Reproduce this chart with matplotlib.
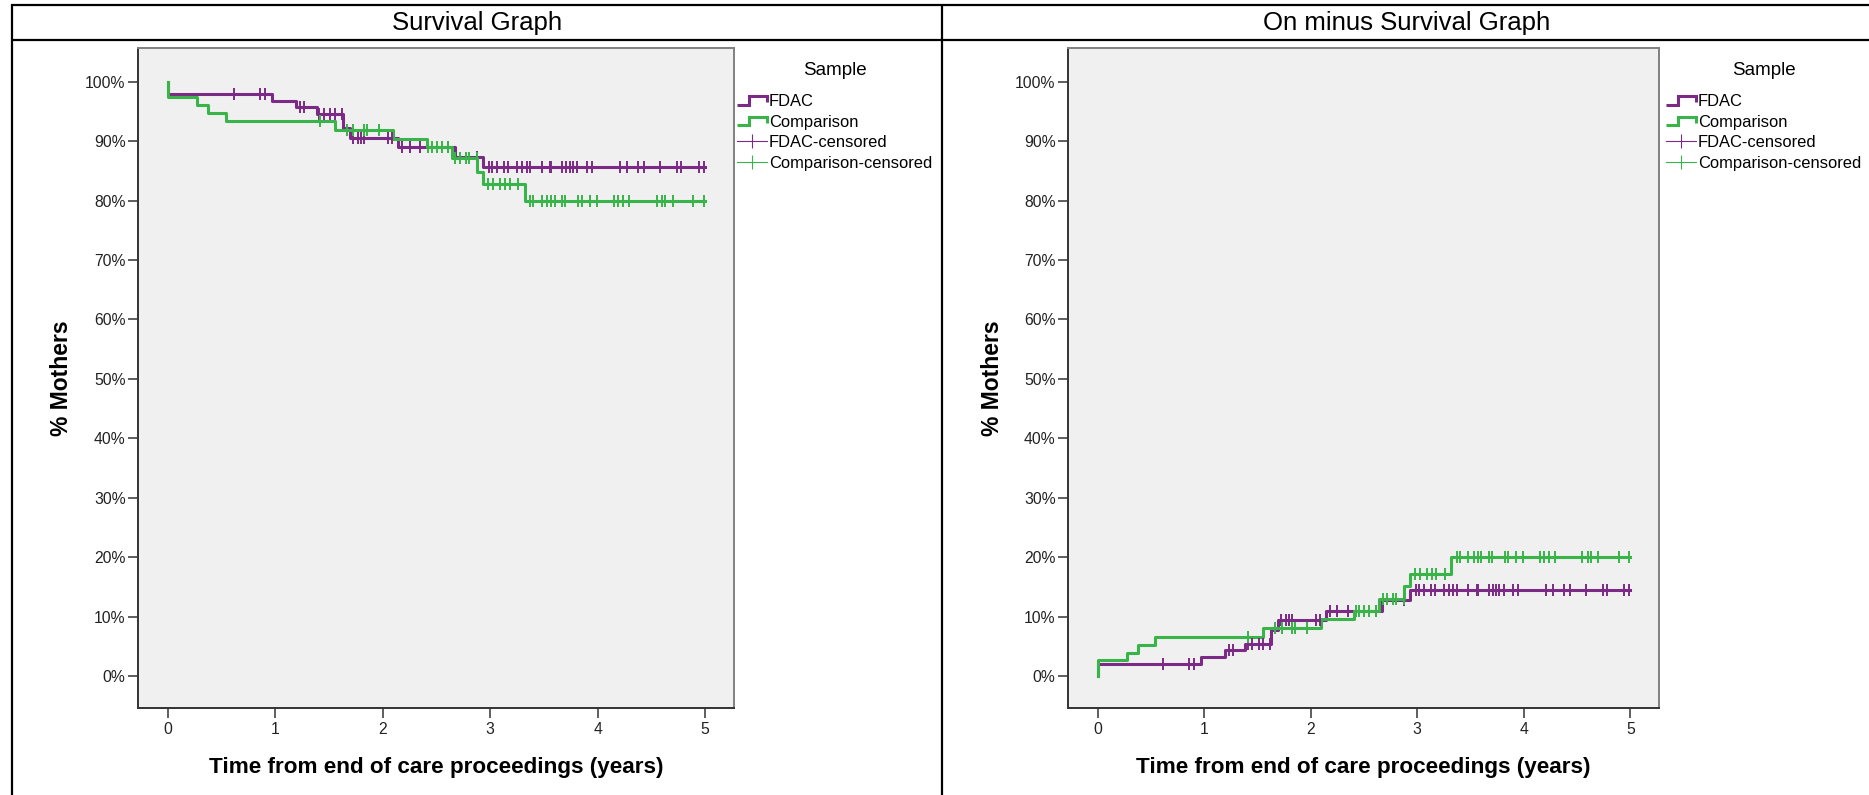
import numpy as np
import matplotlib
matplotlib.use("Agg")
import matplotlib.pyplot as plt
from matplotlib.lines import Line2D
from matplotlib.legend_handler import HandlerBase

plt.rcParams['font.family'] = ['Liberation Sans', 'DejaVu Sans']

# ---- Kaplan-Meier data (years, % still "off") ----
fdac_event_times = [0.0, 0.965, 1.19, 1.385, 1.63, 1.69, 2.14, 2.67, 2.93]
fdac_survival = [98.0, 96.8, 95.7, 94.6, 92.3, 90.6, 89.1, 87.3, 85.6]
fdac_end = 5.0
fdac_censored = [0.61, 0.86, 0.90, 1.23, 1.265, 1.41, 1.45, 1.51, 1.55, 1.62,
                 1.72, 1.77, 1.80, 1.82, 2.05, 2.085, 2.18, 2.25, 2.35, 2.61,
                 2.875, 2.985, 3.015, 3.06, 3.125, 3.17, 3.25, 3.295, 3.34, 3.37,
                 3.48, 3.56, 3.57, 3.67, 3.71, 3.74, 3.77, 3.81, 3.90, 3.95,
                 4.21, 4.27, 4.38, 4.43, 4.58, 4.74, 4.78, 4.94, 4.99]

comp_event_times = [0.0, 0.27, 0.375, 0.54, 1.55, 2.095, 2.41, 2.64, 2.88, 2.935, 3.32]
comp_survival = [97.4, 96.1, 94.8, 93.4, 91.9, 90.4, 89.0, 87.1, 84.8, 82.8, 80.0]
comp_end = 5.0
comp_censored = [1.415, 1.665, 1.725, 1.82, 1.85, 1.96, 2.425, 2.455, 2.50, 2.55,
                 2.61, 2.675, 2.72, 2.77, 2.80, 2.875, 2.98, 3.03, 3.09, 3.14,
                 3.18, 3.26, 3.37, 3.40, 3.48, 3.53, 3.57, 3.60, 3.67, 3.70,
                 3.82, 3.85, 3.93, 3.99, 4.15, 4.19, 4.24, 4.29, 4.55, 4.60,
                 4.63, 4.70, 4.89, 4.99]

group_names = ["FDAC", "Comparison"]
panel_titles = ["Survival Graph", "On minus Survival Graph"]
x_ticks = [0, 1, 2, 3, 4, 5]
y_ticks = [0, 10, 20, 30, 40, 50, 60, 70, 80, 90, 100]
x_label = "Time from end of care proceedings (years)"
y_label = "% Mothers"

PURPLE = "#7B2A85"
GREEN = "#38B449"

W, H = 1869, 795
fig = plt.figure(figsize=(W / 100, H / 100), dpi=100)


def px_rect(l, t, r, b):
    return [l / W, 1 - b / H, (r - l) / W, (b - t) / H]


def step_curve(times, levels, end):
    xs = [0.0] + list(times) + [end]
    ys = [100.0] + list(levels) + [levels[-1]]
    return np.array(xs), np.array(ys)


def level_at(times, levels, t):
    idx = np.searchsorted(np.array(times), np.array(t), side="right") - 1
    return np.array(levels)[idx]


class StepIcon(HandlerBase):
    def create_artists(self, legend, orig_handle, xdescent, ydescent,
                       width, height, fontsize, trans):
        x0, y0 = -xdescent, -ydescent
        xs = np.array([0.0, 0.42, 0.42, 1.0, 1.0]) * width + x0
        ys = np.array([0.12, 0.12, 0.88, 0.88, 0.35]) * height + y0
        ln = Line2D(xs, ys, color=orig_handle.get_color(),
                    lw=orig_handle.get_linewidth(), solid_joinstyle="miter",
                    solid_capstyle="butt")
        ln.set_transform(trans)
        return [ln]


groups = [
    (fdac_event_times, fdac_survival, fdac_end, fdac_censored, PURPLE),
    (comp_event_times, comp_survival, comp_end, comp_censored, GREEN),
]

axes_rects = [px_rect(138, 48, 734, 708), px_rect(1068, 48, 1659, 708)]
legend_anchor = [(737, 62), (1666, 62)]

for k in range(2):
    ax = fig.add_axes(axes_rects[k])
    ax.set_facecolor("#F0F0F0")
    handles, hmap = [], {}
    for (times, levels, end, cens, col), name in zip(groups, group_names):
        xs, ys = step_curve(times, levels, end)
        cy = level_at(times, levels, cens)
        if k == 1:
            ys = 100.0 - ys
            cy = 100.0 - cy
        ln, = ax.step(xs, ys, where="post", color=col, lw=2.2, zorder=3)
        ax.plot(cens, cy, ls="none", marker="|", ms=8, mew=1.4,
                color=col, zorder=4)
        handles.append(ln)
        hmap[ln] = StepIcon()
    cens_handles = [Line2D([], [], color=c, lw=0.8, marker="|", ms=10, mew=0.8)
                    for c in (PURPLE, GREEN)]
    labels = group_names + [n + "-censored" for n in group_names]

    ax.set_xlim(-0.28, 5.27)
    ax.set_ylim(-5.4, 105.7)
    ax.set_xticks(x_ticks)
    ax.set_yticks(y_ticks)
    ax.set_yticklabels([f"{v}%" for v in y_ticks])
    ax.tick_params(axis="both", direction="out", length=7, width=1.1,
                   color="#333333", labelsize=11.3, labelcolor="#222222", pad=2)
    ax.tick_params(axis="x", pad=3)
    for s in ("left", "bottom"):
        ax.spines[s].set_color("#333333")
        ax.spines[s].set_linewidth(1.4)
    for s in ("top", "right"):
        ax.spines[s].set_color("#808080")
        ax.spines[s].set_linewidth(1.4)

    ax.set_xlabel(x_label, fontsize=16.2, fontweight="bold")
    ax.xaxis.set_label_coords(0.5, -0.075)
    ax.set_ylabel(y_label, fontsize=16.5, fontweight="bold")
    ax.yaxis.set_label_coords(-0.109, 0.5)

    lx, ly = legend_anchor[k]
    leg = ax.legend(handles + cens_handles, labels, handler_map=hmap,
                    title="Sample", loc="upper left",
                    bbox_to_anchor=(lx / W, 1 - ly / H),
                    bbox_transform=fig.transFigure, frameon=False,
                    fontsize=11.9, title_fontsize=13.5, borderpad=0,
                    borderaxespad=0, handlelength=1.8, handletextpad=0.12,
                    labelspacing=0.33, numpoints=1)
    leg._legend_box.sep = 11

    # table header text
    cell_centre = [477, 1407][k]
    fig.text(cell_centre / W, 1 - 23 / H, panel_titles[k], ha="center",
             va="center", fontsize=18.5)

# table rules
rule = dict(color="black", lw=1.6, solid_capstyle="butt")
for y in (5, 40):
    fig.add_artist(Line2D([11 / W, 1.0], [1 - y / H, 1 - y / H], **rule))
for x in (12, 942):
    fig.add_artist(Line2D([x / W, x / W], [1 - 4 / H, 0.0], **rule))

fig.savefig("out.png", dpi=100)
